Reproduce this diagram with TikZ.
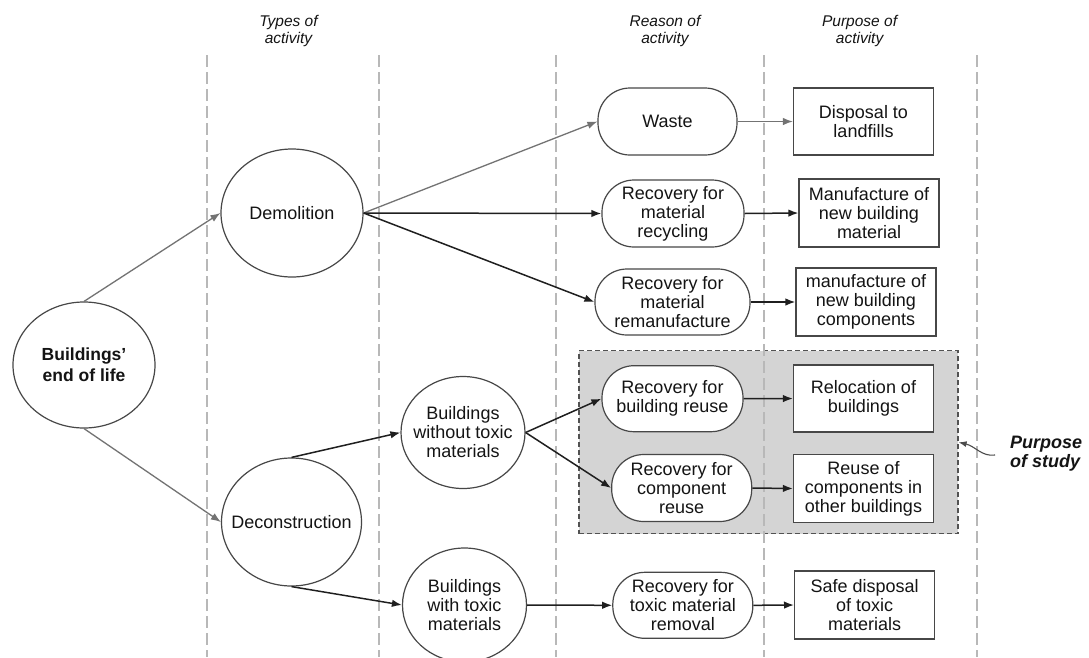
\documentclass[tikz,border=0pt]{standalone}
\usepackage{fontspec}
\setmainfont{Liberation Sans}
\usetikzlibrary{arrows.meta,shapes.geometric}

\begin{document}
\begin{tikzpicture}[x=1pt,y=-1pt,
  every node/.style={text=black!92, inner sep=0pt, align=center,
    font=\fontsize{18}{19}\selectfont},
  oval/.style={ellipse, draw=black!72, line width=1.2pt, fill=white},
  pill/.style={rectangle, rounded corners=32pt, draw=black!72, line width=1.2pt,
    fill=white, minimum height=66},
  outbox/.style={rectangle, draw=black!72, line width=1.2pt, fill=white,
    minimum width=140, minimum height=68},
  header/.style={font=\fontsize{15.5}{17.7}\selectfont\itshape},
  column/.style={draw=black!28, line width=1.2pt, dash pattern=on 12pt off 5pt},
  studyarea/.style={rectangle, fill=black!17, draw=black!68, line width=1.2pt,
    dash pattern=on 5pt off 3pt},
  lightarrow/.style={draw=black!55, line width=1.3pt,
    -{Latex[length=10pt,width=7.5pt]}},
  darkarrow/.style={draw=black!88, line width=1.5pt,
    -{Latex[length=10pt,width=7.5pt]}}
]
\useasboundingbox[fill=white] (0,0) rectangle (1089,657);

% column titles
\node[header] (h1) at (288.5,31) {Types of\\activity};
\node[header] (h2) at (665,31) {Reason of\\activity};
\node[header] (h3) at (859.6,31) {Purpose of\\activity};

% highlighted area of the study
\node[studyarea, minimum width=379, minimum height=183] (area) at (768.5,442.3) {};

% column separators
\foreach \cx in {207,379,556,764,977}
  \draw[column] (\cx,55) -- (\cx,657);

% first levels: oval nodes
\node[oval, minimum width=142, minimum height=126] (bel) at (84,365) {};
\node[font=\fontsize{17.5}{21}\selectfont\bfseries] (belt) at (bel) {Buildings'\\end of life};
\node[oval, minimum width=142, minimum height=128] (dem) at (292,213) {};
\node (demt) at (dem) {Demolition};
\node[oval, minimum width=140, minimum height=128] (dec) at (291.5,522) {};
\node (dect) at (dec) {Deconstruction};
\node[oval, minimum width=124, minimum height=112] (wo) at (463,432.5) {};
\node (wot) at (wo) {Buildings\\without toxic\\materials};
\node[oval, minimum width=124, minimum height=114] (wt) at (464.5,605) {};
\node (wtt) at (wt) {Buildings\\with toxic\\materials};

% reasons
\node[pill, minimum width=139, minimum height=67] (waste) at (667.5,121.5) {Waste};
\node[pill, minimum width=142, minimum height=67] (recyc) at (673,213.5) {Recovery for\\material\\recycling};
\node[pill, minimum width=155] (reman) at (672.5,302) {Recovery for\\material\\remanufacture};
\node[pill, minimum width=141] (breuse) at (672.5,398.7) {Recovery for\\building reuse};
\node[pill, minimum width=140, minimum height=67] (creuse) at (681.7,488) {Recovery for\\component\\reuse};
\node[pill, minimum width=140] (toxrem) at (682.8,605.3) {Recovery for\\toxic material\\removal};

% purposes
\node[outbox, minimum height=67] (disp) at (863.5,121.5) {Disposal to\\landfills};
\node[outbox] (manuf) at (869,213) {Manufacture of\\new building\\material};
\node[outbox] (comp) at (866,302) {manufacture of\\new building\\components};
\node[outbox, minimum height=67] (reloc) at (863.5,398.5) {Relocation of\\buildings};
\node[outbox] (reusec) at (863.5,488.5) {Reuse of\\components in\\other buildings};
\node[outbox] (safe) at (864.6,605) {Safe disposal\\of toxic\\materials};

% connectors
\draw[lightarrow] (bel.north) -- (dem.west);
\draw[lightarrow] (bel.south) -- (dec.west);
\draw[lightarrow] (dem.east) -- (waste.west);
\draw[darkarrow] (dem.east) -- (recyc.west);
\draw[darkarrow] (dem.east) -- (reman.west);
\draw[darkarrow] (dec.north) -- (wo.west);
\draw[darkarrow] (dec.south) -- (wt.west);
\draw[darkarrow] (wo.east) -- (breuse.west);
\draw[darkarrow] (wo.east) -- (creuse.west);
\draw[darkarrow] (wt.east) -- (toxrem.west);

\draw[lightarrow] (waste.east) -- (disp.west);
\draw[darkarrow] (recyc.east) -- (manuf.west);
\draw[darkarrow] (reman.east) -- (comp.west);
\draw[darkarrow] (breuse.east) -- (reloc.west);
\draw[darkarrow] (creuse.east) -- (reusec.west);
\draw[darkarrow] (toxrem.east) -- (safe.west);

% annotation of the study area
\node[anchor=west, align=left, font=\fontsize{18}{19}\selectfont\bfseries\itshape]
  (study) at (1010,454) {Purpose\\of study};
\coordinate (tail) at (995,455);
\draw[draw=black!70, line width=1.1pt, -{Latex[length=8pt,width=6pt]}]
  (tail) .. controls (982,457) and (975,446) .. (area.east);
\end{tikzpicture}
\end{document}
